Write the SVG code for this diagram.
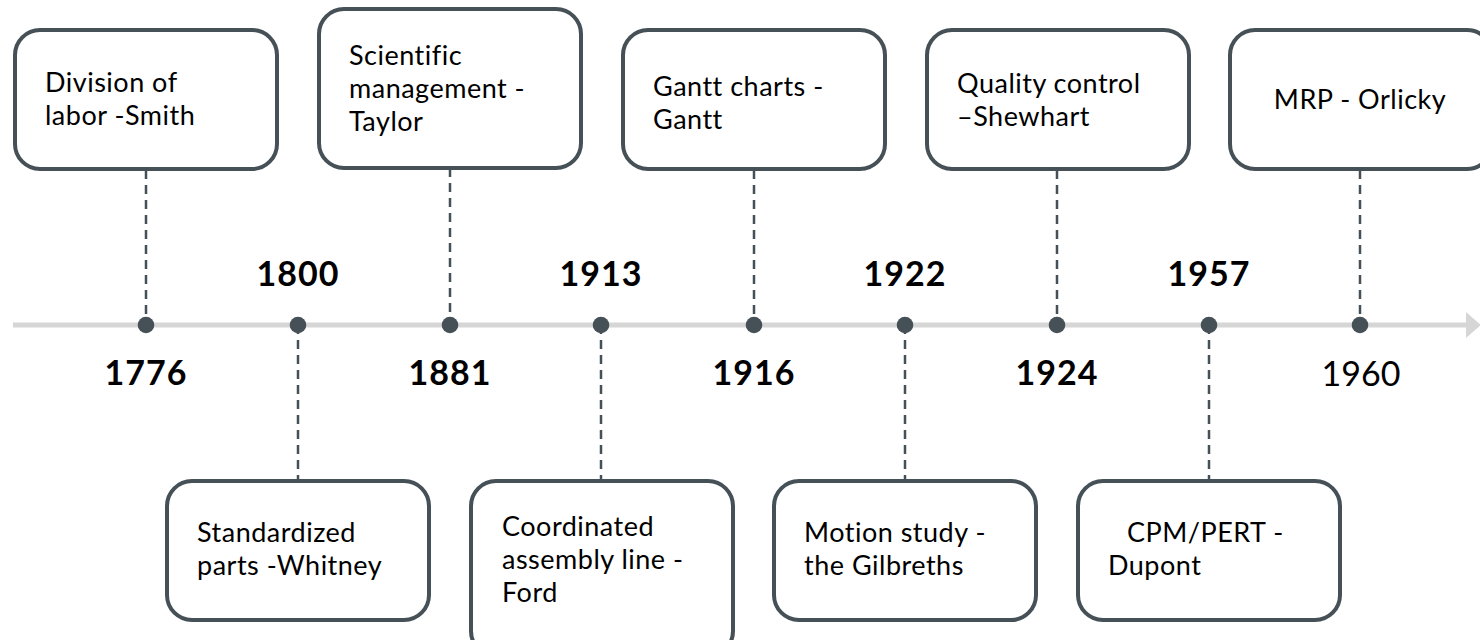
<svg xmlns="http://www.w3.org/2000/svg" width="1480" height="640" viewBox="0 0 1480 640">
<style>
.box{fill:#ffffff;stroke:#455057;stroke-width:4}
.lbl{font-family:Lato,"Open Sans","Liberation Sans",sans-serif;font-size:27px;letter-spacing:0.5px;fill:#000000}
.yr{font-family:Lato,"Open Sans","Liberation Sans",sans-serif;font-size:34px;font-weight:bold;letter-spacing:1px;fill:#000000;text-anchor:middle}
.yrn{font-family:Lato,"Open Sans","Liberation Sans",sans-serif;font-size:34px;fill:#000000;text-anchor:middle}
.dash{stroke:#455057;stroke-width:2.5;stroke-dasharray:9 6;fill:none}
.dot{fill:#455057}
</style>
<rect width="1480" height="640" fill="#ffffff"/>
<g id="timeline">
<line x1="13" y1="325" x2="1468" y2="325" stroke="#d6d6d6" stroke-width="5"/>
<polygon points="1466,312 1481,325 1466,338" fill="#d6d6d6"/>
</g>
<g id="connectors">
<line class="dash" x1="146" y1="170" x2="146" y2="325"/>
<line class="dash" x1="450" y1="168" x2="450" y2="325"/>
<line class="dash" x1="754" y1="170" x2="754" y2="325"/>
<line class="dash" x1="1057" y1="170" x2="1057" y2="325"/>
<line class="dash" x1="1360" y1="170" x2="1360" y2="325"/>
<line class="dash" x1="298" y1="325" x2="298" y2="480"/>
<line class="dash" x1="601" y1="325" x2="601" y2="480"/>
<line class="dash" x1="905" y1="325" x2="905" y2="480"/>
<line class="dash" x1="1209" y1="325" x2="1209" y2="480"/>
</g>
<g id="dots">
<circle class="dot" cx="146" cy="325" r="8.3"/>
<circle class="dot" cx="298" cy="325" r="8.3"/>
<circle class="dot" cx="450" cy="325" r="8.3"/>
<circle class="dot" cx="601" cy="325" r="8.3"/>
<circle class="dot" cx="754" cy="325" r="8.3"/>
<circle class="dot" cx="905" cy="325" r="8.3"/>
<circle class="dot" cx="1057" cy="325" r="8.3"/>
<circle class="dot" cx="1209" cy="325" r="8.3"/>
<circle class="dot" cx="1360" cy="325" r="8.3"/>
</g>
<g id="years">
<text class="yr" x="146" y="385">1776</text>
<text class="yr" x="298" y="286">1800</text>
<text class="yr" x="450" y="385">1881</text>
<text class="yr" x="601" y="286">1913</text>
<text class="yr" x="754" y="385">1916</text>
<text class="yr" x="905" y="286">1922</text>
<text class="yr" x="1057" y="385">1924</text>
<text class="yr" x="1209" y="286">1957</text>
<text class="yrn" x="1361" y="386">1960</text>
</g>
<g id="n-smith">
<rect class="box" x="15" y="30" width="262" height="139" rx="25"/>
<text class="lbl" x="45" y="92">Division of</text>
<text class="lbl" x="45" y="125">labor -Smith</text>
</g>
<g id="n-taylor">
<rect class="box" x="319" y="9" width="262" height="159" rx="25"/>
<text class="lbl" x="349" y="65">Scientific</text>
<text class="lbl" x="349" y="98">management -</text>
<text class="lbl" x="349" y="131">Taylor</text>
</g>
<g id="n-gantt">
<rect class="box" x="623" y="30" width="262" height="139" rx="25"/>
<text class="lbl" x="653" y="96">Gantt charts -</text>
<text class="lbl" x="653" y="129">Gantt</text>
</g>
<g id="n-shewhart">
<rect class="box" x="927" y="30" width="262" height="139" rx="25"/>
<text class="lbl" x="957" y="93">Quality control</text>
<text class="lbl" x="957" y="126">–Shewhart</text>
</g>
<g id="n-orlicky">
<rect class="box" x="1230" y="30" width="262" height="139" rx="25"/>
<text class="lbl" x="1360" y="109" text-anchor="middle">MRP - Orlicky</text>
</g>
<g id="n-whitney">
<rect class="box" x="167" y="481" width="262" height="139" rx="25"/>
<text class="lbl" x="197" y="542">Standardized</text>
<text class="lbl" x="197" y="575">parts -Whitney</text>
</g>
<g id="n-ford">
<rect class="box" x="471" y="481" width="262" height="175" rx="25"/>
<text class="lbl" x="502" y="536">Coordinated</text>
<text class="lbl" x="502" y="569">assembly line -</text>
<text class="lbl" x="502" y="602">Ford</text>
</g>
<g id="n-gilbreth">
<rect class="box" x="774" y="481" width="262" height="139" rx="25"/>
<text class="lbl" x="804" y="542">Motion study -</text>
<text class="lbl" x="804" y="575">the Gilbreths</text>
</g>
<g id="n-dupont">
<rect class="box" x="1078" y="481" width="262" height="139" rx="25"/>
<text class="lbl" x="1127" y="542">CPM/PERT -</text>
<text class="lbl" x="1108" y="575">Dupont</text>
</g>
</svg>
